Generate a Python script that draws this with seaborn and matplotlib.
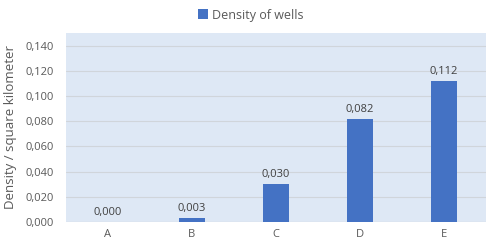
import matplotlib
matplotlib.use("Agg")
import matplotlib.pyplot as plt
import numpy as np
import pandas as pd
import seaborn as sns

categories = ["A", "B", "C", "D", "E"]
density = [0.000, 0.003, 0.030, 0.082, 0.112]
yticks = [0.0, 0.02, 0.04, 0.06, 0.08, 0.10, 0.12, 0.14]

sns.set_style("white")
plt.rcParams["font.family"] = ["Open Sans", "DejaVu Sans"]

bar_color = "#4472C4"
text_color = "#595959"
grid_color = "#D0D5DB"

df = pd.DataFrame({"cat": categories, "density": density})

fig = plt.figure(figsize=(4.88, 2.41), dpi=100)
ax = fig.add_axes([0.135, 0.079, 0.861, 0.784])
ax.set_facecolor("#DEE8F5")

sns.barplot(data=df, x="cat", y="density", color=bar_color, width=0.31,
            saturation=1, linewidth=0, ax=ax, label="Density of wells", zorder=3)

for i, v in enumerate(density):
    ax.text(i, v + 0.003, f"{v:.3f}".replace(".", ","), ha="center", va="bottom",
            fontsize=8, color="#404040")

ax.set_ylim(0, 0.150)
ax.set_xlim(-0.5, 4.5)
ax.set_yticks(yticks)
ax.set_yticklabels([f"{t:.3f}".replace(".", ",") for t in yticks])
ax.yaxis.grid(True, color=grid_color, linewidth=0.8, zorder=0)
ax.set_axisbelow(True)
ax.tick_params(axis="x", length=0, labelsize=8, labelcolor=text_color, pad=5)
ax.tick_params(axis="y", length=0, labelsize=8, labelcolor=text_color, pad=9)
for s in ax.spines.values():
    s.set_visible(False)
ax.axhline(0, color=grid_color, linewidth=0.8, zorder=1)

ax.set_xlabel("")
ax.set_ylabel("Density / square kilometer", fontsize=9.5, color=text_color, labelpad=6)

# legend sits roughly centred on the figure, not on the plot area
ax.legend(loc="center", bbox_to_anchor=(0.44, 1.095), frameon=False,
          fontsize=9, handlelength=0.8, handleheight=0.8, handletextpad=0.3,
          labelcolor=text_color)

fig.savefig("out.png", dpi=100)
